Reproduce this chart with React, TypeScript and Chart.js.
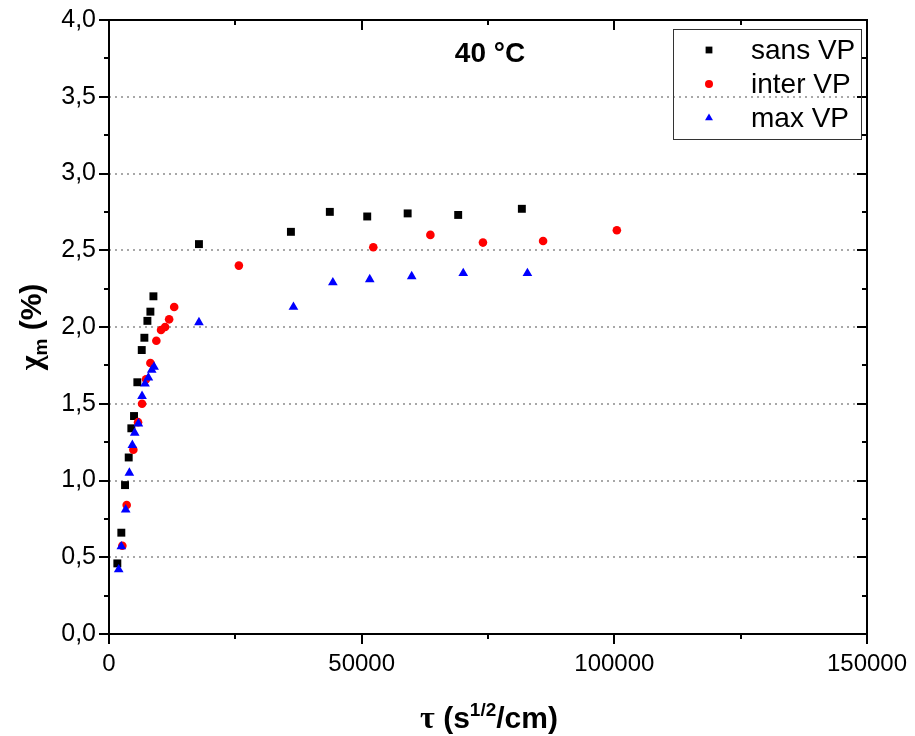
import React, { useEffect, useRef } from "react";
import { Chart, registerables } from "chart.js";
import { drawPoint } from "chart.js/helpers";

Chart.register(...registerables);

// ---- data ----
const seriesNames = ["sans VP", "inter VP", "max VP"];
const seriesColors = ["#000000", "#ff0000", "#0000ff"];

const sansX = [1650, 2440, 3170, 3900, 4420, 4950, 5610, 6480, 7000, 7600, 8190, 8790, 17800, 36000, 43700, 51100, 59100, 69100, 81700];
const sansY = [0.46, 0.66, 0.97, 1.15, 1.34, 1.42, 1.64, 1.85, 1.93, 2.04, 2.1, 2.2, 2.54, 2.62, 2.75, 2.72, 2.74, 2.73, 2.77];

const interX = [2640, 3500, 4820, 5750, 6540, 7330, 8190, 9370, 10300, 11100, 11900, 12900, 25700, 52300, 63600, 74000, 85900, 100500];
const interY = [0.575, 0.84, 1.2, 1.38, 1.5, 1.66, 1.765, 1.91, 1.98, 2.0, 2.05, 2.13, 2.4, 2.52, 2.6, 2.55, 2.56, 2.63];

const maxX = [1920, 2440, 3300, 4030, 4620, 5090, 5810, 6540, 7130, 7790, 8460, 8920, 17800, 36500, 44300, 51600, 59900, 70100, 82800];
const maxY = [0.42, 0.57, 0.81, 1.05, 1.23, 1.31, 1.37, 1.55, 1.63, 1.67, 1.72, 1.74, 2.03, 2.13, 2.29, 2.31, 2.33, 2.35, 2.35];

const xMajorTicks = [0, 50000, 100000, 150000];
const xMinorTicks = [25000, 75000, 125000];
const yMajorTicks = [0, 0.5, 1, 1.5, 2, 2.5, 3, 3.5, 4];
const yMinorTicks = [0.25, 0.75, 1.25, 1.75, 2.25, 2.75, 3.25, 3.75];

const chartTitle = "40 °C";

const SANS = '"Liberation Sans", Arial, sans-serif';
const SERIF = '"Liberation Serif", "Times New Roman", serif';

function zip(xs: number[], ys: number[]) {
  return xs.map((x, i) => ({ x, y: ys[i] }));
}

const pointStyles = ["rect", "circle", "triangle"];
const pointRadii = [5.6, 4.3, 5.6];
const legendRadii = [4.8, 4, 4.6];

function drawPieces(ctx: CanvasRenderingContext2D, pieces: { text: string; font: string; dy: number }[], cx: number, baseline: number) {
  let total = 0;
  for (const p of pieces) {
    ctx.font = p.font;
    total += ctx.measureText(p.text).width;
  }
  let x = cx - total / 2;
  ctx.textAlign = "left";
  ctx.textBaseline = "alphabetic";
  for (const p of pieces) {
    ctx.font = p.font;
    ctx.fillText(p.text, x, baseline + p.dy);
    x += ctx.measureText(p.text).width;
  }
}

function zeroPadding(s: any) {
  s.paddingLeft = 0;
  s.paddingRight = 0;
  s.paddingTop = 0;
  s.paddingBottom = 0;
}

const decorPlugin = {
  id: "decor",
  afterDraw(chart: any) {
    const ctx: CanvasRenderingContext2D = chart.ctx;
    const { left, right, top, bottom } = chart.chartArea;
    const xs = chart.scales.x;
    const ys = chart.scales.y;
    ctx.save();
    ctx.strokeStyle = "#000";
    ctx.fillStyle = "#000";
    ctx.lineWidth = 2;
    // frame
    ctx.beginPath();
    ctx.rect(left, top, right - left, bottom - top);
    ctx.stroke();
    // ticks
    const major = 10;
    const minor = 5;
    ctx.beginPath();
    for (const v of xMajorTicks) {
      const px = Math.round(xs.getPixelForValue(v));
      ctx.moveTo(px, bottom); ctx.lineTo(px, bottom + major);
      ctx.moveTo(px, top); ctx.lineTo(px, top + major);
    }
    for (const v of xMinorTicks) {
      const px = Math.round(xs.getPixelForValue(v));
      ctx.moveTo(px, bottom); ctx.lineTo(px, bottom + minor);
      ctx.moveTo(px, top); ctx.lineTo(px, top + minor);
    }
    for (const v of yMajorTicks) {
      const py = Math.round(ys.getPixelForValue(v));
      ctx.moveTo(left, py); ctx.lineTo(left - major, py);
      ctx.moveTo(right, py); ctx.lineTo(right - major, py);
    }
    for (const v of yMinorTicks) {
      const py = Math.round(ys.getPixelForValue(v));
      ctx.moveTo(left, py); ctx.lineTo(left - minor, py);
      ctx.moveTo(right, py); ctx.lineTo(right - minor, py);
    }
    ctx.stroke();

    // chart title
    ctx.font = `bold 28px ${SANS}`;
    ctx.textAlign = "center";
    ctx.textBaseline = "middle";
    ctx.fillText(chartTitle, 490, 54);

    // x axis title
    drawPieces(ctx, [
      { text: "τ", font: `bold 32px ${SERIF}`, dy: 0 },
      { text: " (s", font: `bold 30px ${SANS}`, dy: 0 },
      { text: "1/2", font: `bold 19px ${SANS}`, dy: -12 },
      { text: "/cm)", font: `bold 30px ${SANS}`, dy: 0 },
    ], 489, 728);

    // y axis title
    ctx.save();
    ctx.translate(30, 327);
    ctx.rotate(-Math.PI / 2);
    drawPieces(ctx, [
      { text: "χ", font: `bold 32px ${SERIF}`, dy: 0 },
      { text: "m", font: `bold 19px ${SANS}`, dy: 6 },
      { text: " (%)", font: `bold 30px ${SANS}`, dy: 0 },
    ], 0, 11);
    ctx.restore();

    // legend
    ctx.lineWidth = 1;
    ctx.strokeStyle = "#333";
    ctx.strokeRect(673.5, 29.5, 188, 110);
    const rows = [50, 84, 118];
    chart.data.datasets.forEach((ds: any, i: number) => {
      ctx.fillStyle = ds.pointBackgroundColor;
      ctx.strokeStyle = ds.pointBackgroundColor;
      drawPoint(ctx, { pointStyle: ds.pointStyle, radius: legendRadii[i], rotation: 0, borderWidth: 0 } as any, 709, rows[i]);
      ctx.fillStyle = "#000";
      ctx.font = `28px ${SANS}`;
      ctx.textAlign = "left";
      ctx.textBaseline = "middle";
      ctx.fillText(ds.label, 751, rows[i] + 1);
    });
    ctx.restore();
  },
};

export default function App() {
  const ref = useRef<HTMLCanvasElement | null>(null);
  useEffect(() => {
    if (!ref.current) return;
    const data = [zip(sansX, sansY), zip(interX, interY), zip(maxX, maxY)];
    const chart = new Chart(ref.current, {
      type: "scatter",
      data: {
        datasets: data.map((d, i) => ({
          label: seriesNames[i],
          data: d,
          pointStyle: pointStyles[i] as any,
          pointRadius: pointRadii[i],
          pointBackgroundColor: seriesColors[i],
          pointBorderColor: seriesColors[i],
          pointBorderWidth: 0,
          showLine: false,
          order: 3 - i,
        })),
      },
      options: {
        responsive: false,
        maintainAspectRatio: false,
        animation: false,
        devicePixelRatio: 1,
        layout: { padding: { top: 20, right: 48, bottom: 0, left: 0 } },
        plugins: { legend: { display: false }, tooltip: { enabled: false }, title: { display: false } },
        scales: {
          x: {
            type: "linear",
            min: 0,
            max: 150000,
            afterFit: (s: any) => { s.height = 102; zeroPadding(s); },
            ticks: {
              stepSize: 50000,
              color: "#000",
              padding: 16,
              maxRotation: 0,
              font: { family: SANS, size: 24 },
              callback: (v: any) => String(v),
            },
            grid: { display: false, drawTicks: false },
            border: { display: false },
          },
          y: {
            type: "linear",
            min: 0,
            max: 4,
            afterFit: (s: any) => { s.width = 109; zeroPadding(s); },
            ticks: {
              stepSize: 0.5,
              color: "#000",
              padding: 13,
              font: { family: SANS, size: 25 },
              callback: (v: any) => Number(v).toFixed(1).replace(".", ","),
            },
            grid: {
              drawTicks: false,
              lineWidth: 2,
              color: (c: any) => (c.tick && c.tick.value > 0 && c.tick.value < 4 ? "#a8a8a8" : "rgba(0,0,0,0)"),
            },
            border: { display: false, dash: [2, 4] },
          },
        },
      },
      plugins: [decorPlugin],
    });
    return () => chart.destroy();
  }, []);
  return (
    <div style={{ position: "fixed", left: 0, top: 0, width: 915, height: 736, background: "#fff" }}>
      <canvas ref={ref} width={915} height={736} style={{ display: "block" }} />
    </div>
  );
}
